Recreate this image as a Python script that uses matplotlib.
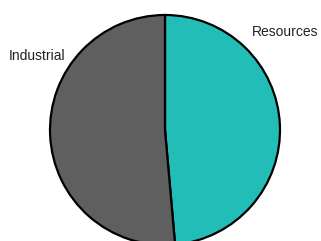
import matplotlib
matplotlib.use("Agg")
import matplotlib.pyplot as plt

labels = ["Resources", "Industrial"]
shares = [48.6, 51.4]
colors = ["#23bdb8", "#5f5f5f"]

W, H = 321, 241
fig = plt.figure(figsize=(W / 100, H / 100), dpi=100)
ax = fig.add_axes([0, 0, 1, 1])
ax.set_xlim(0, W)
ax.set_ylim(0, H)
ax.set_aspect("equal")
ax.axis("off")

# pie in pixel coordinates, partly cut off at the bottom
ax.pie(shares, colors=colors, startangle=90, counterclock=False,
       center=(165, H - 130), radius=115, frame=True,
       wedgeprops=dict(edgecolor="black", linewidth=1.6))
ax.set_xlim(0, W)
ax.set_ylim(0, H)
ax.axis("off")

ax.text(252, H - 32, labels[0], fontsize=10, family="Liberation Sans",
        color="#222222", ha="left", va="center")
ax.text(9, H - 56.5, labels[1], fontsize=10, family="Liberation Sans",
        color="#222222", ha="left", va="center")

fig.savefig("out.png", dpi=100)
